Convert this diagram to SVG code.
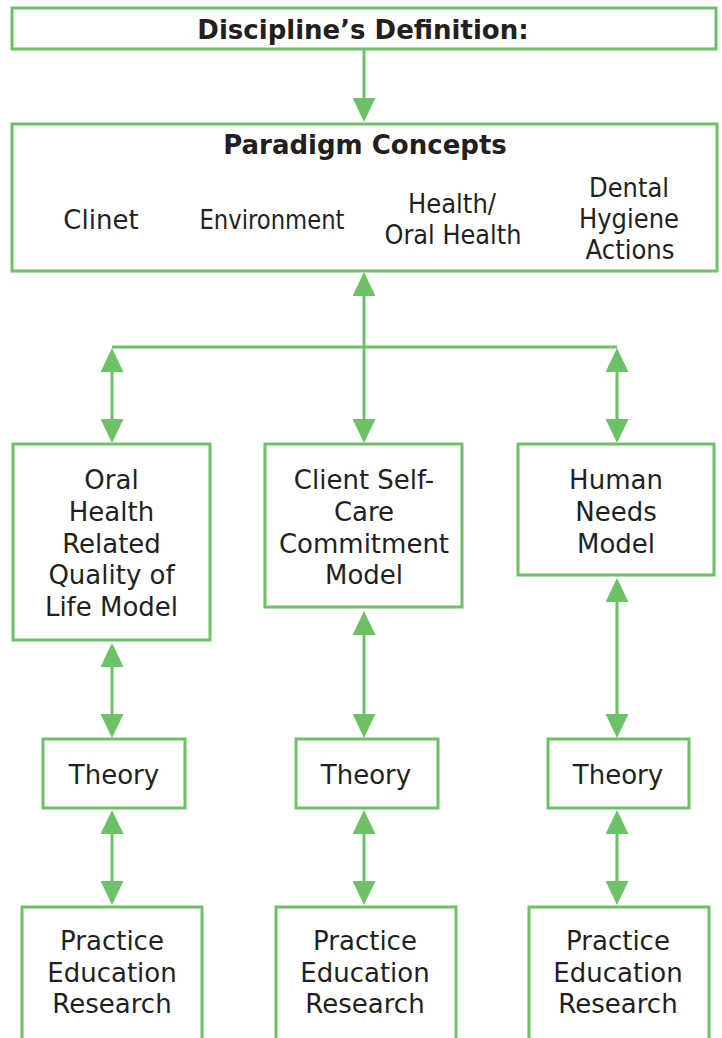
<svg xmlns="http://www.w3.org/2000/svg" width="722" height="1038" viewBox="0 0 722 1038">
  <style>
    .box { fill: #ffffff; stroke: #6DC166; stroke-width: 3; }
    .link { fill: none; stroke: #6DC166; stroke-width: 3; }
    .lbl { font-family: "DejaVu Sans", Verdana, sans-serif; font-size: 26px; fill: #231F20; text-anchor: middle; }
    .hd { font-family: "DejaVu Sans", Verdana, sans-serif; font-size: 26px; font-weight: bold; fill: #231F20; text-anchor: middle; }
  </style>
  <defs>
    <marker id="head" markerUnits="userSpaceOnUse" viewBox="0 0 24 23" markerWidth="24" markerHeight="23" refX="4" refY="11.5" orient="auto-start-reverse">
      <path d="M0,0 L24,11.5 L0,23 Z" fill="#6DC166"/>
    </marker>
  </defs>

  <rect width="722" height="1038" fill="#ffffff"/>

  <!-- connectors -->
  <g id="connectors">
    <line class="link" x1="364" y1="49" x2="364" y2="102" marker-end="url(#head)"/>
    <line class="link" x1="364" y1="292" x2="364" y2="423" marker-start="url(#head)" marker-end="url(#head)"/>
    <line class="link" x1="112" y1="347" x2="617" y2="347"/>
    <line class="link" x1="112" y1="368" x2="112" y2="423" marker-start="url(#head)" marker-end="url(#head)"/>
    <line class="link" x1="617" y1="368" x2="617" y2="423" marker-start="url(#head)" marker-end="url(#head)"/>
    <line class="link" x1="112" y1="663" x2="112" y2="718" marker-start="url(#head)" marker-end="url(#head)"/>
    <line class="link" x1="364" y1="631" x2="364" y2="718" marker-start="url(#head)" marker-end="url(#head)"/>
    <line class="link" x1="617" y1="598" x2="617" y2="718" marker-start="url(#head)" marker-end="url(#head)"/>
    <line class="link" x1="112" y1="830" x2="112" y2="885" marker-start="url(#head)" marker-end="url(#head)"/>
    <line class="link" x1="364" y1="830" x2="364" y2="885" marker-start="url(#head)" marker-end="url(#head)"/>
    <line class="link" x1="617" y1="830" x2="617" y2="885" marker-start="url(#head)" marker-end="url(#head)"/>
  </g>

  <g id="definition">
    <rect class="box" x="12" y="8" width="704" height="41"/>
    <text class="hd" x="363" y="39">Discipline’s Definition:</text>
  </g>

  <g id="paradigm">
    <rect class="box" x="12" y="124" width="705" height="147"/>
    <text class="hd" x="365" y="154">Paradigm Concepts</text>
    <text class="lbl" x="101" y="229">Clinet</text>
    <text class="lbl" x="272" y="229" textLength="145" lengthAdjust="spacingAndGlyphs">Environment</text>
    <text class="lbl" x="452" y="213" textLength="88" lengthAdjust="spacingAndGlyphs">Health/</text>
    <text class="lbl" x="453" y="244" textLength="137" lengthAdjust="spacingAndGlyphs">Oral Health</text>
    <text class="lbl" x="629" y="197" textLength="80" lengthAdjust="spacingAndGlyphs">Dental</text>
    <text class="lbl" x="629" y="228" textLength="100" lengthAdjust="spacingAndGlyphs">Hygiene</text>
    <text class="lbl" x="630" y="259" textLength="89" lengthAdjust="spacingAndGlyphs">Actions</text>
  </g>

  <g id="ohrql-model">
    <rect class="box" x="13" y="444" width="197" height="196"/>
    <text class="lbl" x="111.5" y="489">Oral</text>
    <text class="lbl" x="111.5" y="521">Health</text>
    <text class="lbl" x="111.5" y="553">Related</text>
    <text class="lbl" x="111.5" y="584">Quality of</text>
    <text class="lbl" x="111.5" y="616">Life Model</text>
  </g>

  <g id="self-care-model">
    <rect class="box" x="265" y="444" width="197" height="163"/>
    <text class="lbl" x="364" y="489">Client Self-</text>
    <text class="lbl" x="364" y="521">Care</text>
    <text class="lbl" x="364" y="553">Commitment</text>
    <text class="lbl" x="364" y="584">Model</text>
  </g>

  <g id="human-needs-model">
    <rect class="box" x="518" y="444" width="196" height="131"/>
    <text class="lbl" x="616" y="489">Human</text>
    <text class="lbl" x="616" y="521">Needs</text>
    <text class="lbl" x="616" y="553">Model</text>
  </g>

  <g id="theory-1">
    <rect class="box" x="43" y="739" width="142" height="69"/>
    <text class="lbl" x="114" y="784">Theory</text>
  </g>
  <g id="theory-2">
    <rect class="box" x="296" y="739" width="142" height="69"/>
    <text class="lbl" x="366" y="784">Theory</text>
  </g>
  <g id="theory-3">
    <rect class="box" x="548" y="739" width="141" height="69"/>
    <text class="lbl" x="618" y="784">Theory</text>
  </g>

  <g id="practice-1">
    <rect class="box" x="22" y="907" width="180" height="140"/>
    <text class="lbl" x="112" y="950">Practice</text>
    <text class="lbl" x="112" y="982">Education</text>
    <text class="lbl" x="112" y="1013">Research</text>
  </g>
  <g id="practice-2">
    <rect class="box" x="276" y="907" width="180" height="140"/>
    <text class="lbl" x="365" y="950">Practice</text>
    <text class="lbl" x="365" y="982">Education</text>
    <text class="lbl" x="365" y="1013">Research</text>
  </g>
  <g id="practice-3">
    <rect class="box" x="529" y="907" width="180" height="140"/>
    <text class="lbl" x="618" y="950">Practice</text>
    <text class="lbl" x="618" y="982">Education</text>
    <text class="lbl" x="618" y="1013">Research</text>
  </g>
</svg>
